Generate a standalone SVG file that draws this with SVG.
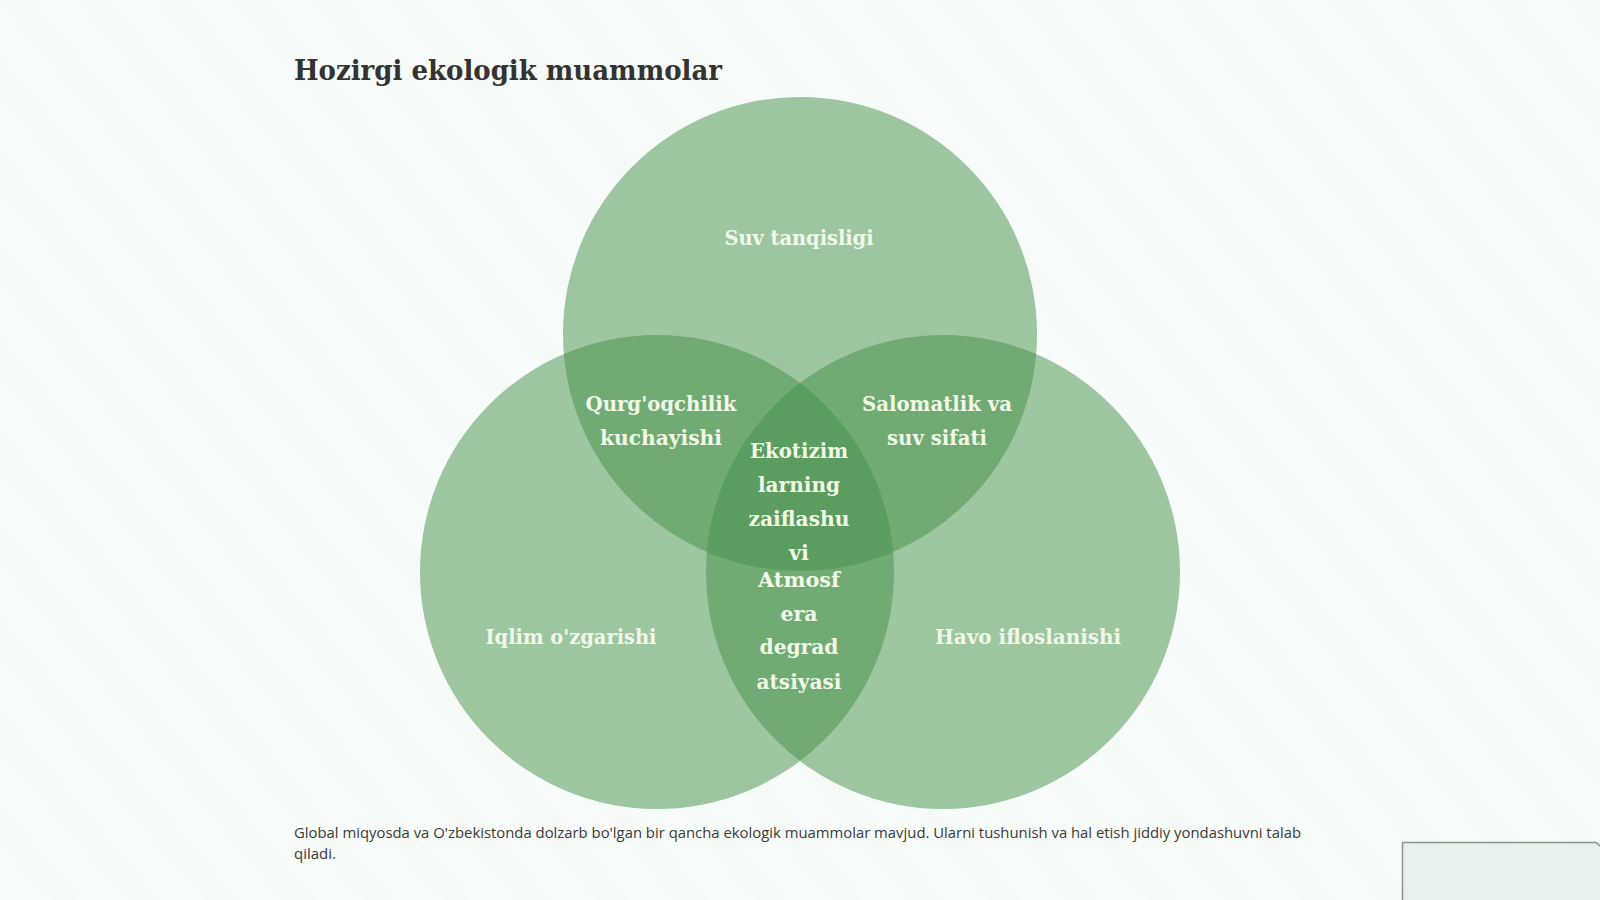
<svg xmlns="http://www.w3.org/2000/svg" width="1600" height="900" viewBox="0 0 1600 900">
  <defs>
    <pattern id="bgpat" width="60" height="60" patternUnits="userSpaceOnUse" patternTransform="rotate(-40)">
      <rect width="60" height="60" fill="#f8fcfa"/>
      <rect x="0" y="0" width="22" height="60" fill="#f3faf6"/>
    </pattern>
  </defs>
  <style>
    .circle { fill: #449048; fill-opacity: 0.5; }
    .lbl { font-family: "DejaVu Serif", "Liberation Serif", serif; font-weight: bold; font-size: 20px; fill: #f1f8e8; text-anchor: middle; }
    .title { font-family: "DejaVu Serif", "Liberation Serif", serif; font-weight: bold; font-size: 27px; fill: #333333; }
    .body { font-family: "Open Sans", "Liberation Sans", sans-serif; font-size: 15px; fill: #3a3a3a; }
  </style>
  <rect width="1600" height="900" fill="#f8fcfa"/>
  <rect width="1600" height="900" fill="url(#bgpat)" opacity="0.5"/>

  <text class="title" x="294" y="80" textLength="428" lengthAdjust="spacingAndGlyphs">Hozirgi ekologik muammolar</text>

  <g id="circle-top">
    <circle class="circle" cx="800" cy="334" r="237"/>
  </g>
  <g id="circle-left">
    <circle class="circle" cx="657" cy="572" r="237"/>
  </g>
  <g id="circle-right">
    <circle class="circle" cx="943" cy="572" r="237"/>
  </g>
  <g id="connectors"></g>

  <g id="label-top">
    <text class="lbl" x="799" y="245" textLength="149" lengthAdjust="spacingAndGlyphs">Suv tanqisligi</text>
  </g>
  <g id="label-left-top">
    <text class="lbl" x="661" y="411" textLength="151" lengthAdjust="spacingAndGlyphs">Qurg'oqchilik</text>
    <text class="lbl" x="661" y="445" textLength="122" lengthAdjust="spacingAndGlyphs">kuchayishi</text>
  </g>
  <g id="label-right-top">
    <text class="lbl" x="937" y="411" textLength="150" lengthAdjust="spacingAndGlyphs">Salomatlik va</text>
    <text class="lbl" x="937" y="445" textLength="100" lengthAdjust="spacingAndGlyphs">suv sifati</text>
  </g>
  <g id="label-center">
    <text class="lbl" x="799" y="458" textLength="98" lengthAdjust="spacingAndGlyphs">Ekotizim</text>
    <text class="lbl" x="799" y="492" textLength="82" lengthAdjust="spacingAndGlyphs">larning</text>
    <text class="lbl" x="799" y="526" textLength="101" lengthAdjust="spacingAndGlyphs">zaiflashu</text>
    <text class="lbl" x="799" y="560" textLength="20" lengthAdjust="spacingAndGlyphs">vi</text>
    <text class="lbl" x="799" y="587" textLength="82" lengthAdjust="spacingAndGlyphs">Atmosf</text>
    <text class="lbl" x="799" y="621" textLength="37" lengthAdjust="spacingAndGlyphs">era</text>
    <text class="lbl" x="799" y="654" textLength="79" lengthAdjust="spacingAndGlyphs">degrad</text>
    <text class="lbl" x="799" y="689" textLength="85" lengthAdjust="spacingAndGlyphs">atsiyasi</text>
  </g>
  <g id="label-left">
    <text class="lbl" x="571" y="644" textLength="171" lengthAdjust="spacingAndGlyphs">Iqlim o'zgarishi</text>
  </g>
  <g id="label-right">
    <text class="lbl" x="1028" y="644" textLength="186" lengthAdjust="spacingAndGlyphs">Havo ifloslanishi</text>
  </g>

  <text class="body" x="294" y="838" textLength="1007" lengthAdjust="spacingAndGlyphs">Global miqyosda va O'zbekistonda dolzarb bo'lgan bir qancha ekologik muammolar mavjud. Ularni tushunish va hal etish jiddiy yondashuvni talab</text>
  <text class="body" x="294" y="859">qiladi.</text>

  <rect x="1402" y="842" width="198" height="58" fill="#e9f1ec"/>
  <path d="M1402.5,900 V842.5 H1596 L1600,846" fill="none" stroke="#8a958e" stroke-width="1.5"/>
</svg>
